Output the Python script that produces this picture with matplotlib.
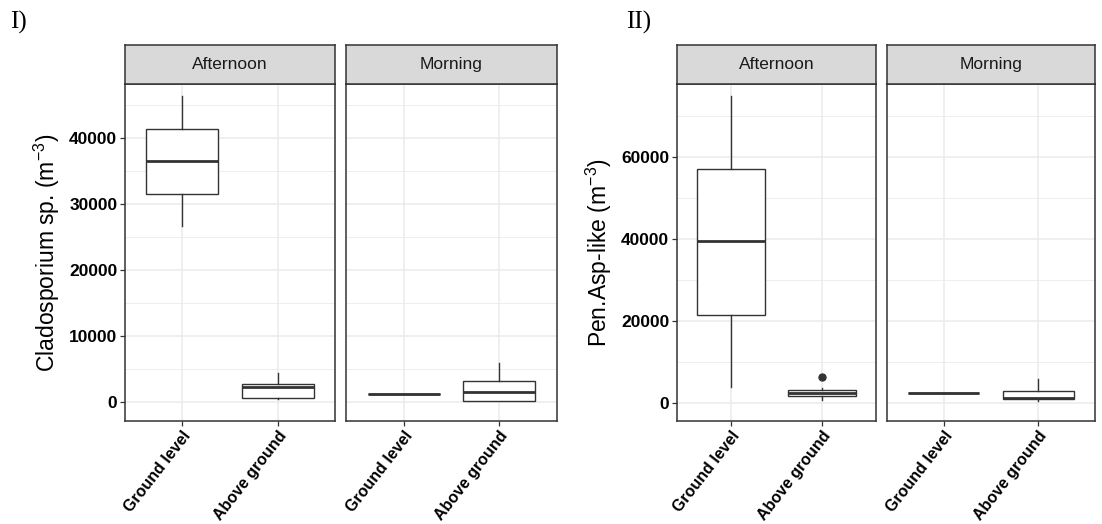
import matplotlib
matplotlib.use("Agg")
import matplotlib.pyplot as plt
from matplotlib.ticker import MultipleLocator

plt.rcParams['font.family'] = ['Liberation Sans', 'DejaVu Sans']
plt.rcParams['mathtext.fontset'] = 'custom'
plt.rcParams['mathtext.rm'] = 'Liberation Sans'
plt.rcParams['mathtext.it'] = 'Liberation Sans:italic'

# ---- data ----
facets = ["Afternoon", "Morning"]
categories = ["Ground level", "Above ground"]

# order per facet: Ground level, Above ground ; facets Afternoon then Morning
clado_whislo = [26700, 450, 1260, 100]
clado_q1 = [31470, 650, 1260, 150]
clado_med = [36560, 2270, 1260, 1460]
clado_q3 = [41300, 2680, 1260, 3180]
clado_whishi = [46400, 4390, 1260, 5900]
clado_fliers = [[], [], [], []]

pen_whislo = [3890, 630, 2430, 490]
pen_q1 = [21480, 1610, 2430, 880]
pen_med = [39400, 2340, 2430, 1120]
pen_q3 = [57000, 3070, 2430, 2990]
pen_whishi = [74840, 3650, 2430, 5840]
pen_fliers = [[], [6400], [], []]

clado_ticks = [0, 10000, 20000, 30000, 40000]
pen_ticks = [0, 20000, 40000, 60000]

W, H = 1102, 524
fig = plt.figure(figsize=(W / 100, H / 100), dpi=100)

DARK = '#333333'


def px_axes(x0, x1, ytop, ybot):
    return fig.add_axes([x0 / W, 1 - ybot / H, (x1 - x0) / W, (ybot - ytop) / H])


def make_stats(lo, q1, med, q3, hi, fl):
    out = []
    for i in range(len(med)):
        out.append(dict(whislo=lo[i], q1=q1[i], med=med[i], q3=q3[i],
                        whishi=hi[i], fliers=fl[i]))
    return out


def draw_chart(xranges, stats, ylim, ticks, minor, ylabel, tag, tagx):
    for fi, (x0, x1) in enumerate(xranges):
        ax = px_axes(x0, x1, 84, 421)
        st = stats[fi * 2:fi * 2 + 2]
        ax.bxp(st, positions=[1, 2], widths=0.75, showcaps=False,
               patch_artist=True,
               boxprops=dict(facecolor='white', edgecolor=DARK, linewidth=1.0),
               medianprops=dict(color=DARK, linewidth=2.0),
               whiskerprops=dict(color=DARK, linewidth=1.0),
               flierprops=dict(marker='o', markerfacecolor=DARK, markeredgecolor=DARK,
                               markersize=5, linestyle='none'),
               zorder=3)
        ax.set_xlim(0.4, 2.6)
        ax.set_ylim(*ylim)
        ax.set_xticks([1, 2])
        ax.set_xticklabels(categories, rotation=52, ha='right', va='top',
                           rotation_mode='anchor', fontsize=11.5, fontweight='bold',
                           color='black')
        ax.yaxis.set_major_locator(plt.FixedLocator(ticks))
        ax.yaxis.set_minor_locator(MultipleLocator(minor))
        ax.grid(True, which='major', color='#EBEBEB', linewidth=1.1, zorder=0)
        ax.grid(True, which='minor', axis='y', color='#EBEBEB', linewidth=0.6, zorder=0)
        ax.set_axisbelow(True)
        ax.tick_params(axis='both', which='major', length=3.5, width=0.9, color=DARK,
                       pad=2)
        ax.tick_params(axis='y', which='minor', length=0)
        for s in ax.spines.values():
            s.set_color(DARK)
            s.set_linewidth(1.1)
        if fi == 0:
            ax.set_yticklabels([str(t) for t in ticks], fontsize=12.5,
                               fontweight='bold', color='black')
            ax.set_ylabel(ylabel, fontsize=16.5, labelpad=5)
        else:
            ax.tick_params(axis='y', which='major', length=0, labelleft=False)
        # strip
        sax = px_axes(x0, x1, 45, 84)
        sax.set_facecolor('#D9D9D9')
        sax.set_xticks([])
        sax.set_yticks([])
        for s in sax.spines.values():
            s.set_color(DARK)
            s.set_linewidth(1.1)
        sax.text(0.5, 0.5, facets[fi], ha='center', va='center', fontsize=12.5,
                 color='#1A1A1A', transform=sax.transAxes)
    fig.text(tagx / W, 1 - 22 / H, tag, family='Liberation Serif', fontsize=18,
             ha='left', va='center')


draw_chart([(125, 335), (346, 557)],
           make_stats(clado_whislo, clado_q1, clado_med, clado_q3, clado_whishi, clado_fliers),
           (-2880, 48180), clado_ticks, 5000,
           r'Cladosporium sp. (m$^{-3}$)', 'I)', 10)

draw_chart([(677, 876), (887, 1095)],
           make_stats(pen_whislo, pen_q1, pen_med, pen_q3, pen_whishi, pen_fliers),
           (-4390, 77800), pen_ticks, 10000,
           r'Pen.Asp-like (m$^{-3}$)', 'II)', 626)

fig.savefig('out.png', dpi=100)
